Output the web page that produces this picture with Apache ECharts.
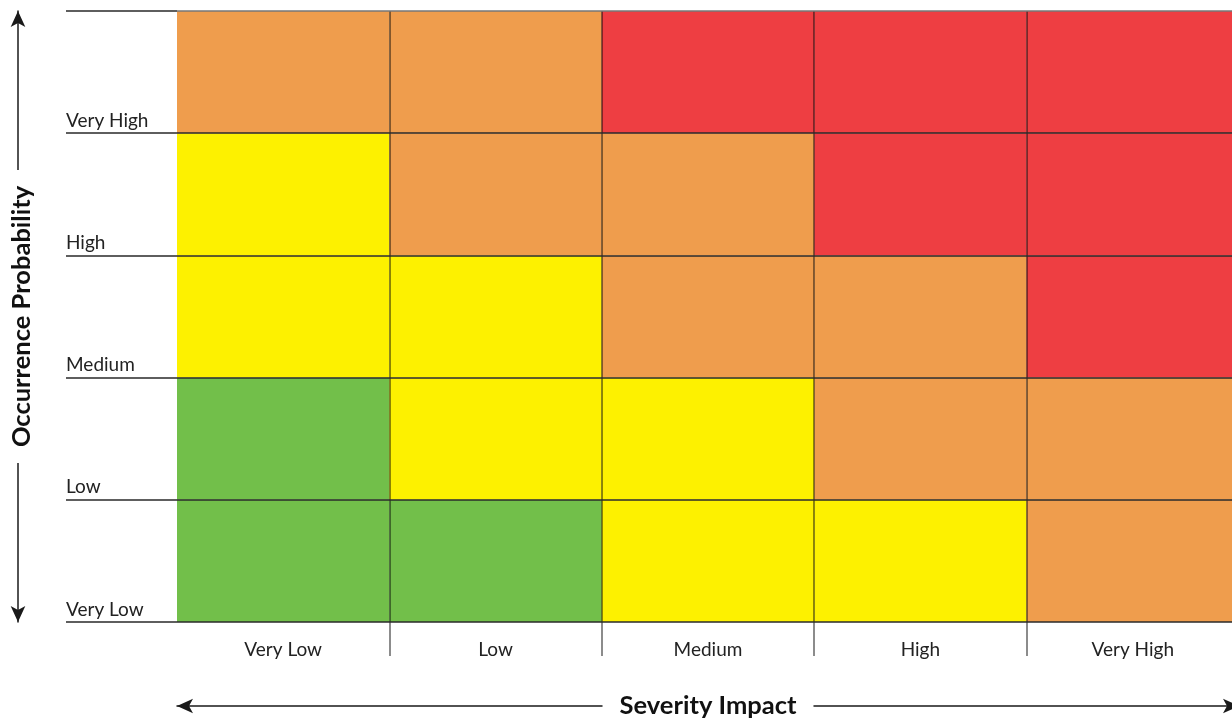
<!DOCTYPE html>
<html>
<head>
<meta charset="utf-8">
<title>Risk Matrix</title>
<script src="https://cdn.jsdelivr.net/npm/echarts@6/dist/echarts.min.js"></script>
<style>
  html, body { margin: 0; padding: 0; background: #fff; }
  #chart { width: 1232px; height: 719px; }
</style>
</head>
<body>
<div id="chart"></div>
<script>
// Severity impact (columns, left to right)
const severity = ['Very Low', 'Low', 'Medium', 'High', 'Very High'];
// Occurrence probability (rows, bottom to top)
const probability = ['Very Low', 'Low', 'Medium', 'High', 'Very High'];
// Risk level per cell: 0 = low (green), 1 = moderate (yellow), 2 = high (orange), 3 = extreme (red)
const rowVeryLow  = [0, 0, 1, 1, 2];
const rowLow      = [0, 1, 1, 2, 2];
const rowMedium   = [1, 1, 2, 2, 3];
const rowHigh     = [1, 2, 2, 3, 3];
const rowVeryHigh = [2, 2, 3, 3, 3];
const levelColors = ['#72bf4a', '#fdf100', '#ef9d4d', '#ee3e42'];

const rows = [rowVeryLow, rowLow, rowMedium, rowHigh, rowVeryHigh];
const cells = [];
rows.forEach((row, r) => row.forEach((lvl, c) => cells.push([c, r, lvl])));

const FONT = 'Lato, "Noto Sans", sans-serif';
const chart = echarts.init(document.getElementById('chart'), null, { renderer: 'canvas' });

// A plain value axis used only for a double-headed arrow line
function arrowAxis(extra) {
  return Object.assign({
    type: 'value',
    min: 0,
    max: 1,
    z: 4,
    axisLine: {
      show: true,
      onZero: false,
      symbol: ['arrow', 'arrow'],
      symbolSize: [11, 16],
      lineStyle: { color: '#1a1a1a', width: 1.5 }
    },
    axisTick: { show: false },
    axisLabel: { show: false },
    splitLine: { show: false }
  }, extra);
}

// A value axis that only carries a title, drawn above the arrow line
function titleAxis(extra, name, gap, rotate, pad) {
  return Object.assign({
    type: 'value',
    min: 0,
    max: 1,
    z: 8,
    axisLine: { show: false, onZero: false },
    axisTick: { show: false },
    axisLabel: { show: false },
    splitLine: { show: false },
    name: name,
    nameLocation: 'middle',
    nameGap: gap,
    nameRotate: rotate,
    nameTextStyle: {
      color: '#111',
      fontFamily: FONT,
      fontWeight: 'bold',
      fontSize: 25.5,
      backgroundColor: '#ffffff',
      padding: pad
    }
  }, extra);
}

chart.setOption({
  animation: false,
  backgroundColor: '#ffffff',
  grid: { left: 177, right: -7, top: 11, bottom: 97, containLabel: false, outerBoundsMode: 'none' },
  xAxis: [
    {
      type: 'category',
      data: severity,
      boundaryGap: true,
      z: 4,
      axisLine: { show: false },
      axisTick: {
        show: true,
        length: 34,
        interval: (i) => i > 0,
        lineStyle: { color: 'rgba(0,0,0,0.45)', width: 2 }
      },
      splitLine: {
        show: true,
        interval: (i) => i > 0,
        lineStyle: { color: 'rgba(0,0,0,0.45)', width: 2 }
      },
      axisLabel: { color: '#222', fontFamily: FONT, fontSize: 19, margin: 18 }
    },
    arrowAxis({ position: 'bottom', offset: 84 }),
    titleAxis({ position: 'bottom', offset: 84 }, 'Severity Impact', -15, 0, [2, 17, 2, 17])
  ],
  yAxis: [
    {
      type: 'value',
      min: 0,
      max: 5,
      interval: 1,
      z: 5,
      axisLine: { show: false },
      axisTick: {
        show: true,
        length: 111,
        lineStyle: { color: '#2a2a2a', width: 1.5 }
      },
      splitLine: {
        show: true,
        lineStyle: {
          color: ['#2a2a2a', '#2a2a2a', '#2a2a2a', '#2a2a2a', '#2a2a2a', '#777777'],
          width: 1.5
        }
      },
      axisLabel: {
        color: '#222',
        fontFamily: FONT,
        fontSize: 19,
        margin: 111,
        align: 'left',
        verticalAlign: 'bottom',
        padding: [0, 0, 3, 0],
        formatter: (v) => probability[v] || ''
      }
    },
    arrowAxis({ position: 'left', offset: 159 }),
    titleAxis({ position: 'left', offset: 159 }, 'Occurrence Probability', -19, 90, [2, 16, 2, 16])
  ],
  series: [
    {
      type: 'custom',
      xAxisIndex: 0,
      yAxisIndex: 0,
      z: 2,
      data: cells,
      encode: { x: 0, y: 1 },
      renderItem: function (params, api) {
        const col = api.value(0);
        const row = api.value(1);
        const lvl = api.value(2);
        const center = api.coord([col, row + 0.5]);
        const size = api.size([1, 1]);
        return {
          type: 'rect',
          shape: {
            x: center[0] - size[0] / 2,
            y: center[1] - size[1] / 2,
            width: size[0],
            height: size[1]
          },
          style: { fill: levelColors[lvl] }
        };
      }
    }
  ]
});
</script>
</body>
</html>
